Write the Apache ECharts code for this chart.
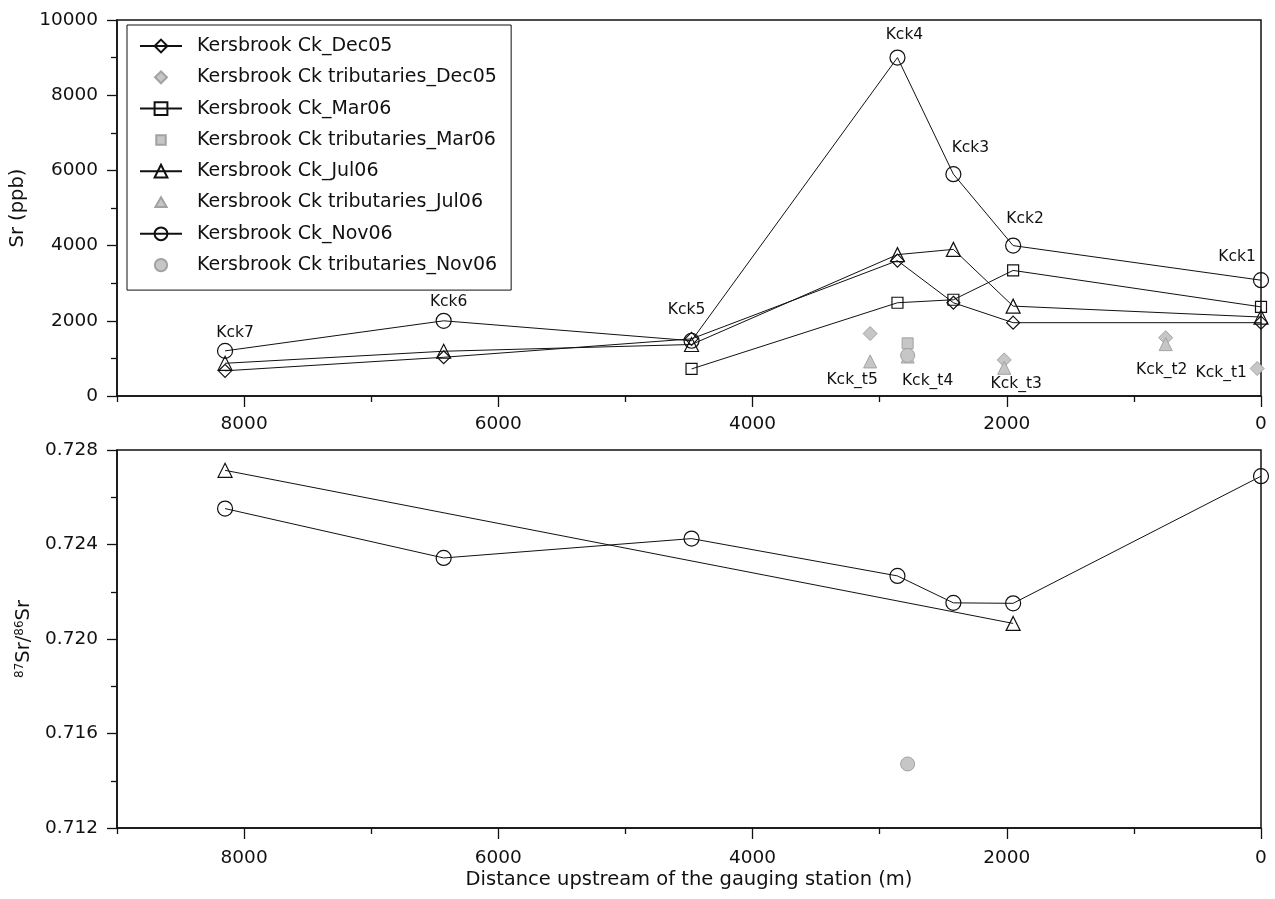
<!DOCTYPE html>
<html>
<head>
<meta charset="utf-8">
<title>Kersbrook Creek Sr and 87Sr/86Sr</title>
<script src="https://cdn.jsdelivr.net/npm/echarts@6/dist/echarts.min.js"></script>
<style>
  html, body { margin: 0; padding: 0; background: #ffffff; }
  #chart { width: 1275px; height: 899px; }
</style>
</head>
<body>
<div id="chart"></div>
<script>
// ---- main-stem stations (distance upstream of the gauging station, m) ----
const stations    = ['Kck7', 'Kck6', 'Kck5', 'Kck4', 'Kck3', 'Kck2', 'Kck1'];
const stationDist = [8150, 6430, 4480, 2860, 2420, 1950, 0];

// Sr concentration (ppb) per sampling campaign
const srDec05 = [670, 1030, 1520, 3600, 2480, 1950, 1950];
const srMar06 = [null, null, 720, 2480, 2560, 3340, 2370];
const srJul06 = [870, 1190, 1370, 3760, 3900, 2390, 2100];
const srNov06 = [1200, 2000, 1470, 9000, 5900, 4000, 3080];

// ---- tributaries ----
const tribNames = ['Kck_t5', 'Kck_t4', 'Kck_t3', 'Kck_t2', 'Kck_t1'];
const tribDist  = [3075, 2780, 2020, 750, 30];
const tribSrDec05 = [1660, 1080, 960, 1550, 730];
const tribSrMar06 = [null, 1400, null, null, null];
const tribSrJul06 = [920, 1050, 750, 1380, null];
const tribSrNov06 = [null, 1080, null, null, null];

// ---- 87Sr/86Sr ----
const ratioJul06 = [0.72714, null, null, null, null, 0.72066, null];
const ratioNov06 = [0.72552, 0.72343, 0.72425, 0.72267, 0.72153, 0.72151, 0.72689];
const tribRatioNov06 = [null, 0.71471, null, null, null];

// ---- axis ticks ----
const distMajorTicks = [0, 2000, 4000, 6000, 8000];
const distMinorTicks = [1000, 3000, 5000, 7000, 9000];
const srTickStep = 2000;
const ratioTickStep = 0.004;

// ---- series names ----
const NAMES = {
  dec05: 'Kersbrook Ck_Dec05',
  tDec05: 'Kersbrook Ck tributaries_Dec05',
  mar06: 'Kersbrook Ck_Mar06',
  tMar06: 'Kersbrook Ck tributaries_Mar06',
  jul06: 'Kersbrook Ck_Jul06',
  tJul06: 'Kersbrook Ck tributaries_Jul06',
  nov06: 'Kersbrook Ck_Nov06',
  tNov06: 'Kersbrook Ck tributaries_Nov06'
};

// ---------------------------------------------------------------------------
const FONT = 'DejaVu Sans';
const INK = '#111111';
const TRIB_FILL = '#c6c6c6';
const TRIB_EDGE = '#a2a2a2';

// label placement around station / tributary markers (pixels)
const stationLabelOffset = {
  Kck7: [10, -18], Kck6: [5, -19], Kck5: [-5, -31], Kck4: [7, -23],
  Kck3: [17, -26], Kck2: [12, -27], Kck1: [-24, -23]
};
const tribLabelOffset = {
  Kck_t5: [-18, 46], Kck_t4: [20, 26], Kck_t3: [12, 24], Kck_t2: [-4, 32], Kck_t1: [-36, 4]
};

function pairs(xs, ys) {
  return xs.map((x, i) => [x, ys[i]]).filter(p => p[1] !== null && p[1] !== undefined);
}

const openMarker = { color: 'rgba(255,255,255,0)', borderColor: INK, borderWidth: 1.2, opacity: 1 };
const lineStyle = { color: INK, width: 1 };
const tribStyle = { color: TRIB_FILL, borderColor: TRIB_EDGE, borderWidth: 1, opacity: 1 };

function mainLine(name, ys, symbol, size, xi, yi, extra) {
  return Object.assign({
    name, type: 'line', xAxisIndex: xi, yAxisIndex: yi,
    data: pairs(stationDist, ys),
    symbol, symbolSize: size, showSymbol: true, clip: false,
    itemStyle: openMarker, lineStyle,
    emphasis: { disabled: true }, z: 3
  }, extra || {});
}
function tribScatter(name, xs, ys, symbol, size, xi, yi, data) {
  return {
    name, type: 'scatter', xAxisIndex: xi, yAxisIndex: yi,
    data: data || pairs(xs, ys),
    symbol, symbolSize: size, clip: false,
    itemStyle: tribStyle, emphasis: { disabled: true }, z: 2
  };
}

const annotationText = { color: INK, fontFamily: FONT, fontSize: 15.5, opacity: 1 };

// station names on the Nov06 Sr markers
const nov06Labelled = stationDist.map((x, i) => ({
  value: [x, srNov06[i]],
  label: Object.assign({
    show: true, formatter: stations[i], position: 'inside',
    offset: stationLabelOffset[stations[i]]
  }, annotationText)
}));
// tributary names on the Dec05 tributary markers
const tribDec05Labelled = tribDist.map((x, i) => ({
  value: [x, tribSrDec05[i]],
  label: Object.assign({
    show: true, formatter: tribNames[i], position: 'inside',
    offset: tribLabelOffset[tribNames[i]]
  }, annotationText)
}));

// legend icons for the tributary symbols, drawn a little smaller than the row height
const ICON_DIAMOND = 'path://M0,-1L1,0L0,1L-1,0Z M-1.35,-1.35L-1.35,-1.35 M1.35,1.35L1.35,1.35';
const ICON_SQUARE = 'path://M-0.8,-0.8L0.8,-0.8L0.8,0.8L-0.8,0.8Z M-1.35,-1.35L-1.35,-1.35 M1.35,1.35L1.35,1.35';
const ICON_TRIANGLE = 'path://M0,-0.9L0.95,0.75L-0.95,0.75Z M-1.35,-1.35L-1.35,-1.35 M1.35,1.35L1.35,1.35';
const ICON_CIRCLE = 'path://M1,0A1,1,0,1,1,-1,0A1,1,0,1,1,1,0Z M-1.3,-1.3L-1.3,-1.3 M1.3,1.3L1.3,1.3';

const tickText = { color: INK, fontFamily: FONT, fontSize: 18.5 };
const axisLine = { show: true, onZero: false, lineStyle: { color: INK, width: 1.5 } };

function distAxis(gridIndex, name) {
  const major = {
    type: 'value', gridIndex, min: 0, max: 9000, inverse: true, position: 'bottom',
    axisLine,
    axisTick: { show: true, inside: false, length: 11, customValues: distMajorTicks,
                lineStyle: { color: INK, width: 1.3 } },
    axisLabel: { show: true, customValues: distMajorTicks, margin: gridIndex === 0 ? 19 : 21,
                 formatter: v => String(v), ...tickText },
    splitLine: { show: false }
  };
  if (name) {
    Object.assign(major, {
      name, nameLocation: 'middle', nameGap: 42,
      nameTextStyle: { color: INK, fontFamily: FONT, fontSize: 19.5 }
    });
  }
  const minor = {
    type: 'value', gridIndex, min: 0, max: 9000, inverse: true, position: 'bottom',
    axisLine: { show: false, onZero: false },
    axisTick: { show: true, inside: false, length: 6, customValues: distMinorTicks,
                lineStyle: { color: INK, width: 1.3 } },
    axisLabel: { show: false },
    splitLine: { show: false }
  };
  return [major, minor];
}

const gridBase = {
  left: 117, right: 14, show: true, borderColor: INK, borderWidth: 1.5,
  backgroundColor: 'rgba(0,0,0,0)', containLabel: false, outerBoundsMode: 'none'
};

const option = {
  backgroundColor: '#ffffff',
  animation: false,
  textStyle: { fontFamily: FONT },
  grid: [
    Object.assign({ top: 20, height: 376 }, gridBase),
    Object.assign({ top: 450, height: 378 }, gridBase)
  ],
  xAxis: [
    ...distAxis(0),
    ...distAxis(1, 'Distance upstream of the gauging station (m)')
  ],
  yAxis: [
    {
      type: 'value', gridIndex: 0, min: 0, max: 10000, interval: srTickStep, position: 'left',
      name: 'Sr (ppb)', nameLocation: 'middle', nameRotate: 90, nameGap: 78,
      nameTextStyle: { color: INK, fontFamily: FONT, fontSize: 19.5 },
      axisLine,
      axisTick: { show: true, inside: false, length: 10, lineStyle: { color: INK, width: 1.3 } },
      minorTick: { show: true, splitNumber: 2, length: 6, lineStyle: { color: INK, width: 1.3 } },
      axisLabel: { margin: 19, formatter: v => String(v), ...tickText },
      splitLine: { show: false }, minorSplitLine: { show: false }
    },
    {
      type: 'value', gridIndex: 1, min: 0.712, max: 0.728, interval: ratioTickStep, position: 'left',
      name: '{sup|87}Sr/{sup|86}Sr', nameLocation: 'middle', nameRotate: 90, nameGap: 78,
      nameTextStyle: {
        color: INK, fontFamily: FONT, fontSize: 19.5,
        rich: { sup: { fontFamily: FONT, fontSize: 12, verticalAlign: 'top', color: INK } }
      },
      axisLine,
      axisTick: { show: true, inside: false, length: 10, lineStyle: { color: INK, width: 1.3 } },
      minorTick: { show: true, splitNumber: 2, length: 6, lineStyle: { color: INK, width: 1.3 } },
      axisLabel: { margin: 19, formatter: v => v.toFixed(3), ...tickText },
      splitLine: { show: false }, minorSplitLine: { show: false }
    }
  ],
  legend: {
    orient: 'vertical', left: 127, top: 25,
    padding: [11, 14, 15, 12],
    itemWidth: 42, itemHeight: 16, itemGap: 11.3,
    backgroundColor: '#ffffff', borderColor: INK, borderWidth: 1,
    selectedMode: false,
    textStyle: { color: INK, fontFamily: FONT, fontSize: 19, lineHeight: 20, padding: [0, 0, 0, 10] },
    data: [
      { name: NAMES.dec05 },
      { name: NAMES.tDec05, icon: ICON_DIAMOND },
      { name: NAMES.mar06 },
      { name: NAMES.tMar06, icon: ICON_SQUARE },
      { name: NAMES.jul06 },
      { name: NAMES.tJul06, icon: ICON_TRIANGLE },
      { name: NAMES.nov06 },
      { name: NAMES.tNov06, icon: ICON_CIRCLE }
    ]
  },
  series: [
    // Sr concentration, main stem
    mainLine(NAMES.dec05, srDec05, 'diamond', 13, 0, 0),
    mainLine(NAMES.mar06, srMar06, 'rect', 11, 0, 0),
    mainLine(NAMES.jul06, srJul06, 'triangle', 14, 0, 0),
    mainLine(NAMES.nov06, srNov06, 'circle', 15, 0, 0, { data: nov06Labelled }),
    // Sr concentration, tributaries
    tribScatter(NAMES.tDec05, tribDist, tribSrDec05, 'diamond', 14, 0, 0, tribDec05Labelled),
    tribScatter(NAMES.tMar06, tribDist, tribSrMar06, 'rect', 11, 0, 0),
    tribScatter(NAMES.tJul06, tribDist, tribSrJul06, 'triangle', 13, 0, 0),
    tribScatter(NAMES.tNov06, tribDist, tribSrNov06, 'circle', 14, 0, 0),
    // 87Sr/86Sr
    mainLine(NAMES.jul06, ratioJul06, 'triangle', 14, 2, 1),
    mainLine(NAMES.nov06, ratioNov06, 'circle', 15, 2, 1),
    tribScatter(NAMES.tNov06, tribDist, tribRatioNov06, 'circle', 14, 2, 1)
  ]
};

const chart = echarts.init(document.getElementById('chart'), null, { renderer: 'canvas' });
chart.setOption(option);
</script>
</body>
</html>
